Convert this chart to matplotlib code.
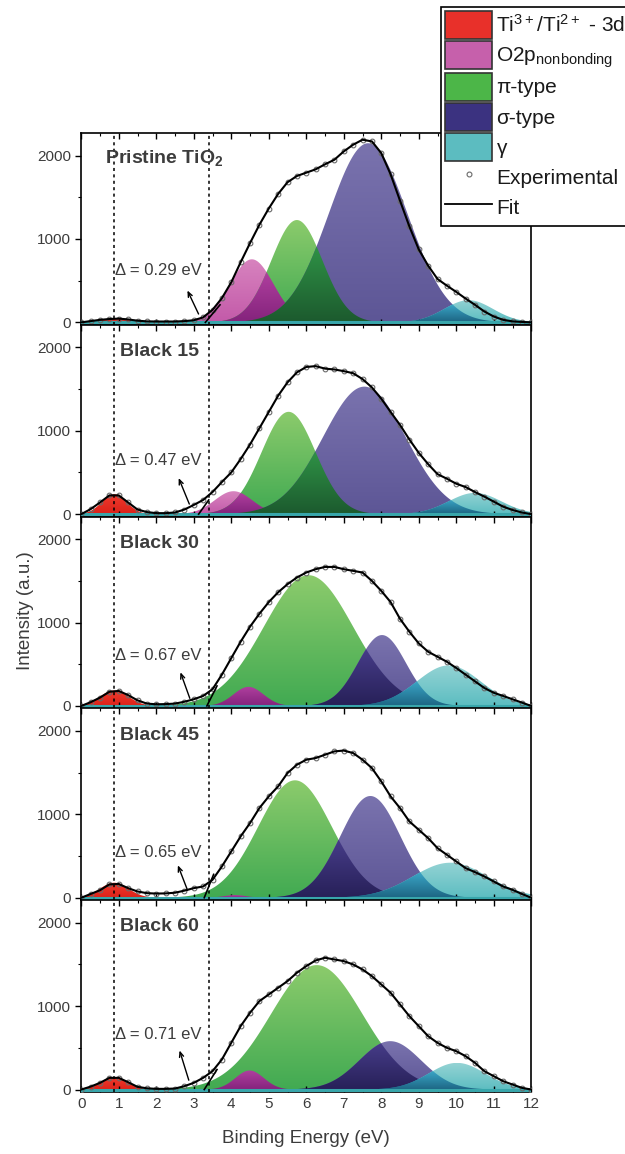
import numpy as np
import matplotlib.pyplot as plt
from matplotlib.colors import LinearSegmentedColormap
from matplotlib.patches import Patch
from matplotlib.lines import Line2D

plt.rcParams['font.family'] = ['Liberation Sans', 'DejaVu Sans']
plt.rcParams['mathtext.default'] = 'regular'

# Samples, top to bottom
samples = ['Pristine TiO$_2$', 'Black 15', 'Black 30', 'Black 45', 'Black 60']
gaps = [0.29, 0.47, 0.67, 0.65, 0.71]

# Measured valence band spectra, sampled every 0.25 eV from 0 to 12 eV
energy = np.linspace(0, 12, 49)
pristine = [0, 15, 30, 40, 45, 35, 20, 12, 10, 10, 10, 15, 25, 60, 150, 290,
            480, 720, 950, 1170, 1365, 1540, 1680, 1755, 1795, 1835, 1895, 1950,
            2050, 2130, 2190, 2170, 2030, 1775, 1460, 1150, 875, 680, 520, 440,
            365, 285, 210, 130, 70, 30, 12, 5, 0]
black15 = [0, 60, 140, 225, 225, 140, 55, 25, 12, 12, 20, 55, 110, 170, 265, 385,
           500, 660, 835, 1030, 1225, 1420, 1580, 1700, 1765, 1775, 1745, 1735,
           1715, 1690, 1620, 1520, 1385, 1225, 1070, 895, 735, 600, 480, 425,
           365, 325, 265, 210, 150, 90, 50, 20, 0]
black30 = [0, 45, 100, 170, 180, 130, 67, 28, 20, 22, 28, 50, 80, 120, 200, 375,
           573, 770, 950, 1105, 1245, 1363, 1460, 1540, 1600, 1640, 1667, 1667,
           1640, 1620, 1600, 1500, 1380, 1245, 1045, 890, 750, 650, 590, 530,
           455, 375, 295, 215, 158, 120, 80, 40, 0]
black45 = [0, 45, 90, 160, 165, 115, 75, 55, 50, 52, 60, 85, 115, 135, 215, 375,
           555, 735, 895, 1075, 1215, 1335, 1495, 1595, 1655, 1675, 1715, 1755,
           1765, 1735, 1655, 1555, 1395, 1215, 1075, 915, 815, 715, 595, 515,
           435, 355, 307, 255, 195, 135, 95, 45, 0]
black60 = [0, 35, 80, 140, 140, 88, 32, 15, 8, 8, 12, 40, 80, 140, 220, 360,
           560, 760, 920, 1060, 1140, 1220, 1300, 1400, 1480, 1548, 1580, 1560,
           1540, 1500, 1440, 1360, 1260, 1160, 1020, 880, 760, 640, 560, 500,
           460, 400, 320, 220, 160, 100, 60, 20, 0]
measured = [pristine, black15, black30, black45, black60]

# Fitted Gaussian components per sample: centre (eV), height, sigma (eV)
ti3d_pos = [0.90, 0.88, 0.88, 0.88, 0.88]
ti3d_amp = [45, 240, 186, 180, 152]
ti3d_sig = [0.35, 0.33, 0.38, 0.38, 0.35]
o2p_pos = [4.55, 4.06, 4.46, 4.10, 4.49]
o2p_amp = [756, 275, 229, 32, 228]
o2p_sig = [0.58, 0.50, 0.40, 0.30, 0.38]
pi_pos = [5.75, 5.53, 6.06, 5.70, 6.28]
pi_amp = [1227, 1227, 1568, 1408, 1492]
pi_sig = [0.68, 0.72, 1.19, 0.98, 1.22]
sigma_pos = [7.65, 7.55, 8.02, 7.71, 8.24]
sigma_amp = [2148, 1529, 850, 1220, 580]
sigma_sig = [1.05, 1.10, 0.64, 0.80, 0.82]
gamma_pos = [10.33, 10.50, 9.80, 9.84, 10.02]
gamma_amp = [266, 255, 486, 420, 320]
gamma_sig = [0.65, 0.70, 0.85, 1.00, 0.75]

# Valence band edge guides: tangent foot, tangent top, arrow head / tail
edge_x = [(3.31, 3.70), (3.13, 3.40), (3.35, 3.62), (3.28, 3.53), (3.28, 3.62)]
edge_y = [(0, 210), (0, 170), (0, 240), (0, 280), (0, 240)]
arrow_head = [(2.80, 412), (2.57, 463), (2.62, 435), (2.55, 420), (2.60, 500)]
arrow_tail = [(3.16, 70), (2.91, 90), (2.92, 60), (2.86, 60), (2.89, 80)]
label_y = [1970, 1950, 1950, 1950, 1950]
delta_y = [620, 640, 605, 540, 660]

# light top, light bottom, dark top, dark bottom
shades = {
    'ti3d': ('#ef3b2e', '#dc2219', '#c42318', '#9c140c'),
    'o2p': ('#d884bf', '#c35aa9', '#b0409f', '#84237c'),
    'pi': ('#8ccb6c', '#41aa52', '#2f9246', '#1c5a2e'),
    'sigma': ('#7a73ae', '#5d5696', '#463c88', '#272058'),
    'gamma': ('#94d3d4', '#5cbdc1', '#3aa5c6', '#1d6583'),
}
legend_colors = ['#e8302a', '#c660ab', '#4cb648', '#3b3280', '#5cbcc0']
legend_labels = ['Ti$^{3+}$/Ti$^{2+}$ - 3d', 'O2p$_{nonbonding}$', '\u03c0-type',
                 '\u03c3-type', '\u03b3']

text_color = '#3c3c3c'
xs = np.linspace(0, 12, 1201)


def gauss(x, pos, amp, sig):
    return amp * np.exp(-(x - pos) ** 2 / (2 * sig ** 2))


def gradient_fill(ax, x, y, c_top, c_bot, z):
    top = y.max()
    if top < 8:
        return
    poly = ax.fill_between(x, 0, y, facecolor='none', edgecolor='none', zorder=z)
    cmap = LinearSegmentedColormap.from_list('shade', [c_bot, c_top])
    img = ax.imshow(np.linspace(0, 1, 128).reshape(-1, 1), cmap=cmap,
                    aspect='auto', origin='lower', interpolation='bilinear',
                    extent=(x[0], x[-1], 0, top), zorder=z)
    img.set_clip_path(poly.get_paths()[0], transform=ax.transData)


fig = plt.figure(figsize=(6.25, 11.54), dpi=100)
gs = fig.add_gridspec(5, 1, left=0.13, right=0.85, top=0.8847, bottom=0.0537,
                      hspace=0)
axes = [fig.add_subplot(gs[i]) for i in range(5)]

for i, ax in enumerate(axes):
    comps = [
        ('ti3d', gauss(xs, ti3d_pos[i], ti3d_amp[i], ti3d_sig[i]), ti3d_amp[i]),
        ('o2p', gauss(xs, o2p_pos[i], o2p_amp[i], o2p_sig[i]), o2p_amp[i]),
        ('pi', gauss(xs, pi_pos[i], pi_amp[i], pi_sig[i]), pi_amp[i]),
        ('sigma', gauss(xs, sigma_pos[i], sigma_amp[i], sigma_sig[i]), sigma_amp[i]),
        ('gamma', gauss(xs, gamma_pos[i], gamma_amp[i], gamma_sig[i]), gamma_amp[i]),
    ]
    # each component in its light shade
    for name, y, amp in comps:
        c = shades[name]
        gradient_fill(ax, xs, y, c[0], c[1], 1)
    # overlapping areas take the dark shade of the smaller component
    for a in range(len(comps)):
        for b in range(a + 1, len(comps)):
            overlap = np.minimum(comps[a][1], comps[b][1])
            small = comps[a] if comps[a][2] < comps[b][2] else comps[b]
            c = shades[small[0]]
            gradient_fill(ax, xs, overlap, c[2], c[3], 2)

    ax.axhline(0, color='#38a6ab', lw=2.2, zorder=3)

    ax.plot(energy, measured[i], ls='none', marker='o', mfc='none', mec='#6a6a6a',
            ms=3.4, mew=0.8, zorder=5)
    ax.plot(energy, measured[i], color='k', lw=1.5, zorder=6)

    for xv in (0.88, 3.40):
        ax.axvline(xv, color='k', ls=(0, (2, 2.2)), lw=1.1, zorder=7)
    ax.plot(edge_x[i], edge_y[i], color='k', lw=1.2, zorder=7)
    ax.annotate('', xy=arrow_head[i], xytext=arrow_tail[i],
                arrowprops=dict(arrowstyle='->,head_length=0.35,head_width=0.15',
                                color='k', lw=1.0), zorder=8)

    lx = 0.64 if i == 0 else 1.04
    ax.text(lx, label_y[i], samples[i], fontsize=14, fontweight='bold',
            color=text_color, va='center', ha='left', zorder=9)
    ax.text(0.90, delta_y[i], '\u0394 = %.2f eV' % gaps[i], fontsize=12,
            color=text_color, va='center', ha='left', zorder=9)

    ax.set_xlim(0, 12)
    ax.set_ylim(-30, 2270)
    ax.set_yticks([0, 1000, 2000])
    ax.set_yticks([500, 1500], minor=True)
    ax.set_xticks(np.arange(0, 13, 1))
    ax.set_xticks(np.arange(0.5, 12, 0.5), minor=True)
    ax.tick_params(axis='x', which='both', direction='in', top=True, bottom=True,
                   labelbottom=(i == 4), labelsize=11, labelcolor=text_color)
    ax.tick_params(axis='x', which='major', length=4, width=1)
    ax.tick_params(axis='x', which='minor', length=2, width=0.8)
    ax.tick_params(axis='y', which='major', direction='out', length=4, width=1,
                   labelsize=11, labelcolor=text_color)
    ax.tick_params(axis='y', which='minor', direction='out', length=2, width=0.8)
    for sp in ax.spines.values():
        sp.set_linewidth(1.2)

axes[-1].set_xlabel('Binding Energy (eV)', fontsize=13.5, color=text_color,
                    labelpad=14)
fig.text(0.04, 0.471, 'Intensity (a.u.)', rotation=90, va='center', ha='center',
         fontsize=13.5, color=text_color)

handles = [Patch(facecolor=c, edgecolor='#333333', lw=1.2) for c in legend_colors]
handles.append(Line2D([], [], ls='none', marker='o', mfc='none', mec='#6a6a6a',
                      ms=3.5, mew=0.8))
handles.append(Line2D([], [], color='k', lw=1.3))
labels = legend_labels + ['Experimental', 'Fit']
leg = fig.legend(handles, labels, loc='upper left', bbox_to_anchor=(0.706, 0.994),
                 fontsize=15, frameon=True, fancybox=False, edgecolor='k',
                 framealpha=1, handlelength=2.25, handleheight=1.7,
                 labelspacing=0.1, handletextpad=0.2, borderpad=0.2,
                 borderaxespad=0)
leg.get_frame().set_linewidth(1.2)
for t in leg.get_texts():
    t.set_color('#1a1a1a')

fig.savefig('out.png', dpi=100)
